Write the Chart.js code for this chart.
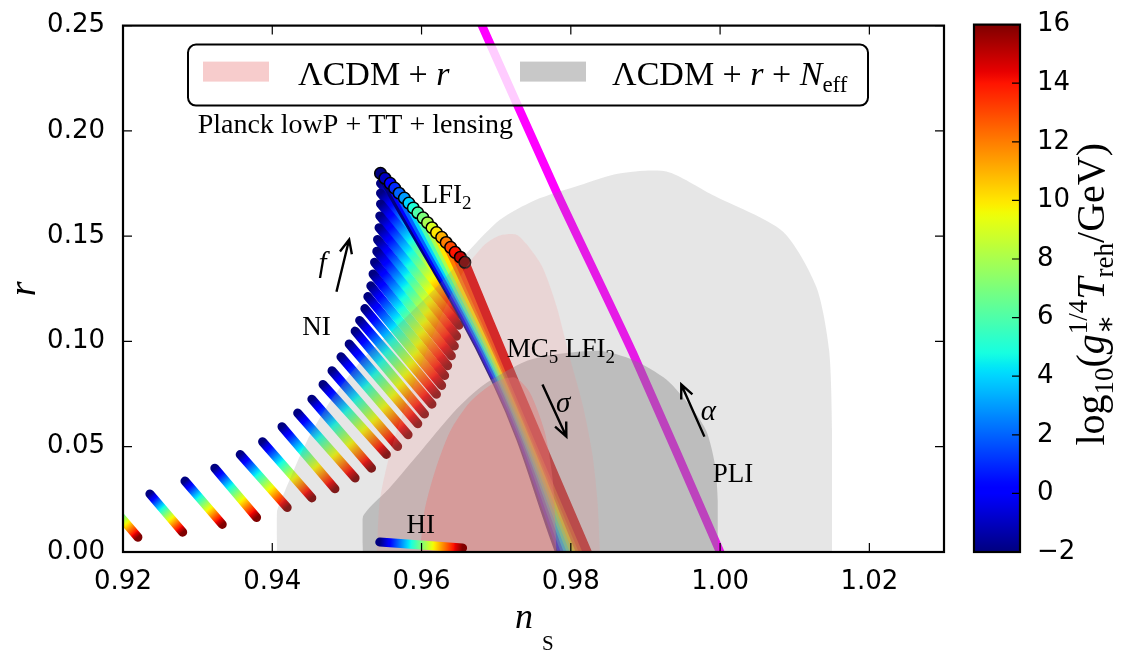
<!DOCTYPE html>
<html>
<head>
<meta charset="utf-8">
<script src="https://cdn.jsdelivr.net/npm/chart.js@4.4.1/dist/chart.umd.min.js"></script>
<style>
html,body{margin:0;padding:0;background:#fff;overflow:hidden;}
#wrap{position:relative;width:1135px;height:651px;background:#fff;}
canvas{position:absolute;top:0;}
#main{left:0;}
#cbar{left:940px;}
</style>
</head>
<body>
<div id="wrap">
<canvas id="main" width="1135" height="651"></canvas>
<canvas id="cbar" width="195" height="651"></canvas>
</div>
<script>
// ---------------- tick labels ----------------
const xTickVals = [0.92, 0.94, 0.96, 0.98, 1.00, 1.02];
const xTickLabels = ['0.92', '0.94', '0.96', '0.98', '1.00', '1.02'];
const yTickVals = [0, 0.05, 0.10, 0.15, 0.20, 0.25];
const yTickLabels = ['0.00', '0.05', '0.10', '0.15', '0.20', '0.25'];
const cbarTickVals = [-2, 0, 2, 4, 6, 8, 10, 12, 14, 16];
const cbarTickLabels = ['\u22122', '0', '2', '4', '6', '8', '10', '12', '14', '16'];

// ---------------- Planck contours (n_s, r) ----------------
const greyOuterNs = [0.9406,0.9406,0.9417,0.9446,0.9477,0.9517,0.9571,0.9624,0.9665,0.9705,0.9752,0.9812,0.9865,0.9928,0.9990,1.0084,1.0129,1.0146,1.0150,1.0150];
const greyOuterR  = [0,0.0187,0.0290,0.0524,0.0712,0.0899,0.1086,0.1273,0.1437,0.1578,0.1671,0.1742,0.1798,0.1807,0.1695,0.1522,0.1259,0.0960,0.0571,0];
const greyInnerNs = [0.9521,0.9521,0.9557,0.9602,0.9647,0.9682,0.9735,0.9768,0.9839,0.9883,0.9928,0.9963,0.9982,0.9993,0.9997,0.9997];
const greyInnerR  = [0,0.0164,0.0304,0.0492,0.0679,0.0791,0.0899,0.0932,0.0955,0.0913,0.0819,0.0679,0.0571,0.0417,0.0243,0];
const pinkOuterNs = [0.9540,0.9544,0.9555,0.9571,0.9591,0.9611,0.9634,0.9658,0.9685,0.9705,0.9727,0.9741,0.9762,0.9781,0.9798,0.9816,0.9829,0.9836,0.9839];
const pinkOuterR  = [0,0.0243,0.0431,0.0618,0.0805,0.0993,0.1180,0.1344,0.1461,0.1503,0.1507,0.1461,0.1353,0.1166,0.0932,0.0698,0.0463,0.0229,0];
const pinkInnerNs = [0.9598,0.9604,0.9618,0.9638,0.9665,0.9698,0.9725,0.9745,0.9765,0.9776,0.9781];
const pinkInnerR  = [0,0.0197,0.0384,0.0571,0.0712,0.0805,0.0829,0.0758,0.0571,0.0337,0];

// ---------------- NI tracks: T_reh from -2 (start) to 16 (end) ----------------
const niStartNs = [0.9176,0.9236,0.9283,0.9323,0.9357,0.9387,0.9413,0.9434,0.9453,0.9468,0.9480,0.9492,0.9503,0.9511,0.9517,0.9524,0.9528,0.9532,0.9535,0.9537,0.9540,0.9541,0.9543,0.9544,0.9545,0.9545,0.9545];
const niStartR  = [0.0253,0.0276,0.0337,0.0398,0.0463,0.0524,0.0595,0.0660,0.0726,0.0796,0.0861,0.0927,0.0988,0.1049,0.1100,0.1156,0.1213,0.1264,0.1320,0.1376,0.1428,0.1484,0.1540,0.1596,0.1653,0.1704,0.1751];
const niEndNs   = [0.9220,0.9280,0.9333,0.9379,0.9420,0.9453,0.9484,0.9511,0.9533,0.9553,0.9568,0.9582,0.9595,0.9604,0.9614,0.9620,0.9627,0.9631,0.9635,0.9640,0.9644,0.9647,0.9650,0.9652,0.9654,0.9655,0.9656];
const niEndR    = [0.0070,0.0094,0.0131,0.0164,0.0211,0.0257,0.0300,0.0351,0.0398,0.0463,0.0501,0.0557,0.0609,0.0655,0.0702,0.0749,0.0791,0.0838,0.0885,0.0932,0.0978,0.1025,0.1077,0.1128,0.1184,0.1241,0.1306];

// ---------------- LFI2 points ----------------
const lfiT  = [-2,-1,0,1,2,3,4,5,6,7,8,9,10,11,12,13,14,15,16];
const lfiNs = [0.9545,0.9551,0.9558,0.9564,0.9570,0.9577,0.9583,0.9589,0.9595,0.9602,0.9608,0.9614,0.9620,0.9627,0.9633,0.9639,0.9645,0.9652,0.9658];
const lfiR  = [0.1798,0.1775,0.1751,0.1728,0.1704,0.1681,0.1657,0.1634,0.1611,0.1587,0.1564,0.1540,0.1517,0.1494,0.1470,0.1447,0.1423,0.1400,0.1376];

// ---------------- MC5 LFI2 band (one track per T) ----------------
const bandT     = [-2,0,2,4,6,8,10,12,13,14.5];
const bandTopNs = [0.9545,0.9558,0.9570,0.9583,0.9595,0.9608,0.9620,0.9633,0.9645,0.9658];
const bandTopR  = [0.1798,0.1751,0.1704,0.1657,0.1611,0.1564,0.1517,0.1470,0.1423,0.1376];
const bandMidNs = [0.9701,0.9703,0.9706,0.9709,0.9711,0.9714,0.9717,0.9720,0.9722,0.9725];
const bandMidR  = [0.0805,0.0805,0.0805,0.0805,0.0805,0.0805,0.0805,0.0805,0.0805,0.0805];
const bandBotNs = [0.9785,0.9789,0.9793,0.9797,0.9801,0.9805,0.9809,0.9813,0.9817,0.9822];
const bandBotR  = [0,0,0,0,0,0,0,0,0,0];

// ---------------- HI and PLI ----------------
const hiNs  = [0.9544, 0.9655];
const hiR   = [0.0047, 0.0019];
const pliNs = [0.9671, 0.9681, 0.9781, 0.9883, 1.0000];
const pliR  = [0.258, 0.250, 0.1709, 0.0946, 0.0];

// ---------------- annotations ----------------
const arrowTailNs = [0.9486, 0.9762, 0.9979];
const arrowTailR  = [0.1236, 0.0796, 0.0548];
const arrowHeadNs = [0.9503, 0.9794, 0.9948];
const arrowHeadR  = [0.1484, 0.0548, 0.0796];

const labelNs = [0.9300, 0.9600, 0.9440, 0.9714, 0.9580, 0.9990, 0.9462, 0.9780, 0.9974];
const labelR  = [0.1990, 0.1657, 0.1030, 0.0927, 0.0089, 0.0332, 0.1330, 0.0665, 0.0627];
const labelParts = [
  [{t:'Planck lowP + TT + lensing', s:28}],
  [{t:'LFI', s:27}, {t:'2', s:19, dy:6}],
  [{t:'NI', s:27}],
  [{t:'MC', s:27}, {t:'5', s:19, dy:6}, {t:' LFI', s:27}, {t:'2', s:19, dy:6}],
  [{t:'HI', s:27}],
  [{t:'PLI', s:27}],
  [{t:'f', s:29, i:true}],
  [{t:'\u03c3', s:29, i:true}],
  [{t:'\u03b1', s:29, i:true}]
];
const legendLabels = [
  [{t:'\u039bCDM + ', s:34}, {t:'r', s:34, i:true}],
  [{t:'\u039bCDM + ', s:34}, {t:'r', s:34, i:true}, {t:' + ', s:34}, {t:'N', s:34, i:true}, {t:'eff', s:23, dy:7}]
];
const legendColors = ['#f7cccc', '#c8c8c8'];
const cbarTitle = [{t:'log', s:40}, {t:'10', s:27, dy:9}, {t:'(', s:40}, {t:'g', s:40, i:true},
  {stack:[{t:'1/4', s:27, dy:-17}, {t:'\u2217', s:29, dy:11}]}, {t:'T', s:40, i:true}, {t:'reh', s:27, dy:9}, {t:'/GeV)', s:40}];

// ---------------- helpers ----------------
const SERIF = "'Liberation Serif','DejaVu Serif',serif";
const SANS = "'DejaVu Sans','Liberation Sans',sans-serif";
const JR = [[0,0],[0.35,0],[0.66,1],[0.89,1],[1,0.5]];
const JG = [[0,0],[0.125,0],[0.375,1],[0.64,1],[0.91,0],[1,0]];
const JB = [[0,0.5],[0.11,1],[0.34,1],[0.65,0],[1,0]];
function lerpTable(t, tab) {
  for (let i = 1; i < tab.length; i++) {
    if (t <= tab[i][0]) {
      const a = tab[i-1], b = tab[i];
      return a[1] + (b[1]-a[1]) * (t-a[0]) / (b[0]-a[0]);
    }
  }
  return tab[tab.length-1][1];
}
function jet(t) {
  t = Math.max(0, Math.min(1, t));
  return 'rgb(' + Math.round(255*lerpTable(t,JR)) + ',' + Math.round(255*lerpTable(t,JG)) + ',' + Math.round(255*lerpTable(t,JB)) + ')';
}
const TMIN = -2, TMAX = 16;
const tNorm = T => (T - TMIN) / (TMAX - TMIN);
function addJetStops(g) { const n = 90; for (let i = 0; i <= n; i++) g.addColorStop(i/n, jet(i/n)); return g; }
function pts(xs, ys) { return xs.map((x, i) => ({x: x, y: ys[i]})); }
function fontOf(p) { return (p.i ? 'italic ' : '') + p.s + 'px ' + SERIF; }
function drawRich(ctx, x, y, parts, measureOnly) {
  let cx = x;
  for (const p of parts) {
    if (p.stack) {
      let w = 0;
      for (const q of p.stack) {
        ctx.font = fontOf(q);
        if (!measureOnly) ctx.fillText(q.t, cx, y + (q.dy || 0));
        w = Math.max(w, ctx.measureText(q.t).width);
      }
      cx += w;
    } else {
      ctx.font = fontOf(p);
      if (!measureOnly) ctx.fillText(p.t, cx, y + (p.dy || 0));
      cx += ctx.measureText(p.t).width;
    }
  }
  return cx - x;
}
function gradTrack(x0, y0, x1, y1) {
  return function(c) {
    const ch = c.chart;
    if (!ch.chartArea) return 'rgba(0,0,0,0)';
    const X = ch.scales.x, Y = ch.scales.y;
    const g = ch.ctx.createLinearGradient(X.getPixelForValue(x0), Y.getPixelForValue(y0), X.getPixelForValue(x1), Y.getPixelForValue(y1));
    return addJetStops(g);
  };
}
function contourDS(xs, ys, color, order) {
  return {data: pts(xs, ys), fill: 'origin', backgroundColor: color, borderColor: 'rgba(0,0,0,0)',
    borderWidth: 0, pointRadius: 0, tension: 0.25, order: order, clip: 0};
}

// ---------------- datasets ----------------
const datasets = [];
datasets.push({data: pts(hiNs, hiR), borderColor: gradTrack(hiNs[0], hiR[0], hiNs[1], hiR[1]), borderWidth: 9,
  pointRadius: 0, borderCapStyle: 'round', order: -1, clip: 0});
datasets.push(contourDS(pinkInnerNs, pinkInnerR, 'rgba(235,118,115,0.40)', 0));
datasets.push(contourDS(pinkOuterNs, pinkOuterR, 'rgba(255,128,128,0.155)', 1));
datasets.push(contourDS(greyInnerNs, greyInnerR, 'rgba(128,128,128,0.40)', 2));
datasets.push(contourDS(greyOuterNs, greyOuterR, 'rgba(128,128,128,0.20)', 3));
datasets.push({data: pts(lfiNs, lfiR), showLine: false, pointRadius: 5.8, pointBorderWidth: 1.5,
  pointBorderColor: '#000', pointBackgroundColor: lfiT.map(T => jet(tNorm(T))), order: 4, clip: 0});
datasets.push({data: pts(pliNs, pliR), borderColor: '#ff00ff', borderWidth: 8.5, pointRadius: 0, tension: 0.2,
  borderCapStyle: 'round', order: 5, clip: 0});
bandT.forEach((T, k) => {
  datasets.push({data: [{x: bandTopNs[k], y: bandTopR[k]}, {x: bandMidNs[k], y: bandMidR[k]}, {x: bandBotNs[k], y: bandBotR[k]}],
    borderColor: jet(tNorm(T)), borderWidth: 9, pointRadius: 0, tension: 0.4, borderCapStyle: 'round',
    order: 7 + (bandT.length - 1 - k), clip: 0});
});
niStartNs.forEach((x0, i) => {
  datasets.push({data: [{x: x0, y: niStartR[i]}, {x: niEndNs[i], y: niEndR[i]}],
    borderColor: gradTrack(x0, niStartR[i], niEndNs[i], niEndR[i]), borderWidth: 9, pointRadius: 0,
    borderCapStyle: 'round', order: 20 + i, clip: 0});
});

// ---------------- plugins ----------------
const annot = {
  id: 'annot',
  afterDatasetsDraw(chart) {
    const ctx = chart.ctx, a = chart.chartArea, X = chart.scales.x, Y = chart.scales.y;
    ctx.save();
    ctx.fillStyle = '#000'; ctx.strokeStyle = '#000';
    ctx.textAlign = 'left'; ctx.textBaseline = 'alphabetic';
    labelParts.forEach((parts, i) => drawRich(ctx, X.getPixelForValue(labelNs[i]), Y.getPixelForValue(labelR[i]), parts));
    // arrows
    ctx.lineWidth = 2.4; ctx.lineCap = 'butt';
    arrowTailNs.forEach((x0, i) => {
      const px0 = X.getPixelForValue(x0), py0 = Y.getPixelForValue(arrowTailR[i]);
      const px1 = X.getPixelForValue(arrowHeadNs[i]), py1 = Y.getPixelForValue(arrowHeadR[i]);
      const ang = Math.atan2(py1 - py0, px1 - px0), L = 15, w = 0.42;
      ctx.beginPath();
      ctx.moveTo(px0, py0); ctx.lineTo(px1, py1);
      ctx.moveTo(px1 - L*Math.cos(ang - w), py1 - L*Math.sin(ang - w));
      ctx.lineTo(px1, py1);
      ctx.lineTo(px1 - L*Math.cos(ang + w), py1 - L*Math.sin(ang + w));
      ctx.stroke();
    });
    // legend box
    const bx = a.left + 65, by = a.top + 19, bw = 680, bh = 61, rr = 8;
    ctx.beginPath();
    ctx.moveTo(bx + rr, by); ctx.lineTo(bx + bw - rr, by); ctx.arcTo(bx + bw, by, bx + bw, by + rr, rr);
    ctx.lineTo(bx + bw, by + bh - rr); ctx.arcTo(bx + bw, by + bh, bx + bw - rr, by + bh, rr);
    ctx.lineTo(bx + rr, by + bh); ctx.arcTo(bx, by + bh, bx, by + bh - rr, rr);
    ctx.lineTo(bx, by + rr); ctx.arcTo(bx, by, bx + rr, by, rr); ctx.closePath();
    ctx.fillStyle = 'rgba(255,255,255,0.8)'; ctx.fill();
    ctx.lineWidth = 2; ctx.strokeStyle = '#000'; ctx.stroke();
    const swX = [bx + 15, bx + 332], txX = [bx + 110, bx + 424];
    legendLabels.forEach((parts, i) => {
      ctx.fillStyle = legendColors[i];
      ctx.fillRect(swX[i], by + 17, 66, 20);
      ctx.fillStyle = '#000';
      drawRich(ctx, txX[i], by + 40, parts);
    });
    // x axis title  n_S
    ctx.fillStyle = '#000';
    ctx.font = 'italic 36px ' + SERIF;
    ctx.fillText('n', a.left + 392, a.bottom + 76);
    ctx.font = '21px ' + SERIF;
    ctx.fillText('S', a.left + 419, a.bottom + 98);
    ctx.restore();
  }
};
const frame = {
  id: 'frame',
  afterDraw(chart) {
    const ctx = chart.ctx, a = chart.chartArea, X = chart.scales.x, Y = chart.scales.y;
    ctx.save();
    ctx.strokeStyle = '#000'; ctx.lineWidth = 1.2;
    ctx.beginPath();
    X.ticks.forEach(t => {
      const p = X.getPixelForValue(t.value);
      ctx.moveTo(p, a.bottom); ctx.lineTo(p, a.bottom - 9);
      ctx.moveTo(p, a.top); ctx.lineTo(p, a.top + 9);
    });
    Y.ticks.forEach(t => {
      const p = Y.getPixelForValue(t.value);
      ctx.moveTo(a.left, p); ctx.lineTo(a.left + 9, p);
      ctx.moveTo(a.right, p); ctx.lineTo(a.right - 9, p);
    });
    ctx.stroke();
    ctx.lineWidth = 2.2;
    ctx.strokeRect(a.left, a.top, a.right - a.left, a.bottom - a.top);
    ctx.restore();
  }
};

Chart.defaults.color = '#000';
new Chart(document.getElementById('main'), {
  type: 'line',
  data: {datasets: datasets},
  options: {
    responsive: false, animation: false, devicePixelRatio: 1,
    layout: {padding: {left: 0, top: 18, right: 191, bottom: 0}},
    plugins: {legend: {display: false}, tooltip: {enabled: false}, filler: {propagate: false}},
    elements: {line: {borderJoinStyle: 'round'}},
    scales: {
      x: {
        type: 'linear', min: 0.92, max: 1.03,
        grid: {display: false}, border: {display: false},
        afterBuildTicks: s => { s.ticks = xTickVals.map(v => ({value: v})); },
        ticks: {font: {family: SANS, size: 26}, color: '#000', padding: 7, maxRotation: 0, autoSkip: false,
          callback: v => xTickLabels[xTickVals.findIndex(t => Math.abs(t - v) < 1e-9)]},
        afterFit: s => { s.height = 99; }
      },
      y: {
        type: 'linear', min: 0, max: 0.25,
        grid: {display: false}, border: {display: false},
        afterBuildTicks: s => { s.ticks = yTickVals.map(v => ({value: v})); },
        ticks: {font: {family: SANS, size: 26}, color: '#000', padding: 10, autoSkip: false,
          callback: v => yTickLabels[yTickVals.findIndex(t => Math.abs(t - v) < 1e-9)]},
        title: {display: true, text: 'r', color: '#000', font: {family: SERIF, size: 38, style: 'italic'}, padding: {top: 2, bottom: 0}},
        afterFit: s => { s.width = 123; }
      }
    }
  },
  plugins: [annot, frame]
});

// ---------------- colour bar ----------------
const cbarFrame = {
  id: 'cbarFrame',
  afterDraw(chart) {
    const ctx = chart.ctx, a = chart.chartArea, Y = chart.scales.y;
    ctx.save();
    ctx.strokeStyle = '#000'; ctx.lineWidth = 1.2;
    ctx.beginPath();
    Y.ticks.forEach(t => {
      const p = Y.getPixelForValue(t.value);
      ctx.moveTo(a.right, p); ctx.lineTo(a.right - 8, p);
    });
    ctx.stroke();
    ctx.lineWidth = 2.2;
    ctx.strokeRect(a.left, a.top, a.right - a.left, a.bottom - a.top);
    // title, rotated
    ctx.fillStyle = '#000'; ctx.textBaseline = 'alphabetic'; ctx.textAlign = 'left';
    const w = drawRich(ctx, 0, 0, cbarTitle, true);
    ctx.translate(164, (a.top + a.bottom) / 2 + 6);
    ctx.rotate(-Math.PI / 2);
    drawRich(ctx, -w / 2, 0, cbarTitle);
    ctx.restore();
  }
};
new Chart(document.getElementById('cbar'), {
  type: 'bar',
  data: {labels: ['T'], datasets: [{
    data: [[TMIN, TMAX]],
    backgroundColor: c => {
      const ch = c.chart;
      if (!ch.chartArea) return 'rgba(0,0,0,0)';
      const Y = ch.scales.y;
      return addJetStops(ch.ctx.createLinearGradient(0, Y.getPixelForValue(TMIN), 0, Y.getPixelForValue(TMAX)));
    },
    borderWidth: 0, barPercentage: 1, categoryPercentage: 1
  }]},
  options: {
    responsive: false, animation: false, devicePixelRatio: 1,
    layout: {padding: {left: 34, top: 18, right: 0, bottom: 99}},
    plugins: {legend: {display: false}, tooltip: {enabled: false}},
    scales: {
      x: {display: false},
      y: {
        position: 'right', min: TMIN, max: TMAX,
        grid: {display: false}, border: {display: false},
        afterBuildTicks: s => { s.ticks = cbarTickVals.map(v => ({value: v})); },
        ticks: {font: {family: SANS, size: 26}, color: '#000', padding: 9, autoSkip: false,
          callback: v => cbarTickLabels[cbarTickVals.indexOf(v)]},
        afterFit: s => { s.width = 115; }
      }
    }
  },
  plugins: [cbarFrame]
});
</script>
</body>
</html>
